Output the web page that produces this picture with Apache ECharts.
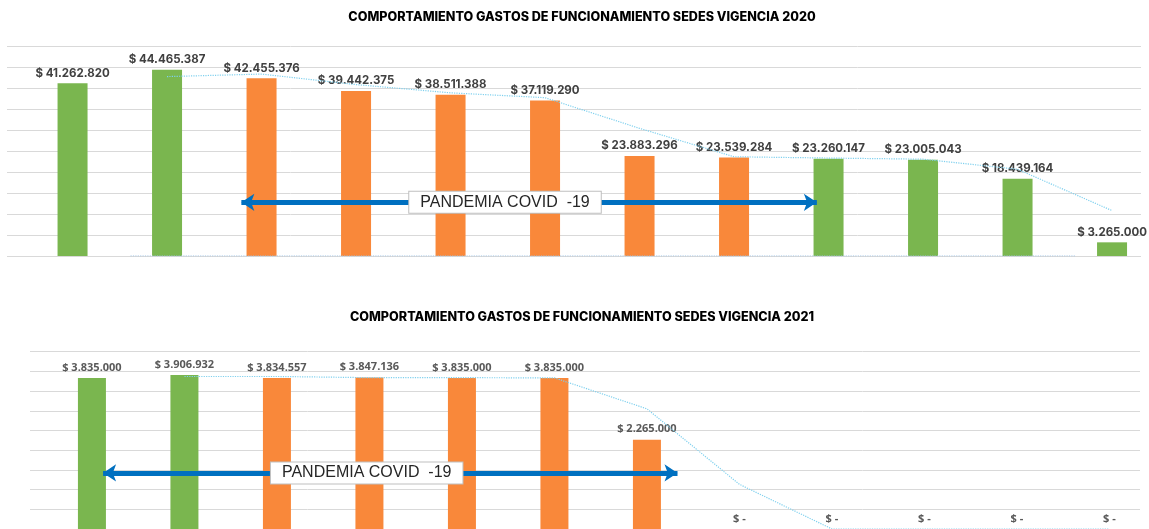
<!DOCTYPE html>
<html>
<head>
<meta charset="utf-8">
<script src="https://cdn.jsdelivr.net/npm/echarts@6/dist/echarts.min.js"></script>
<style>
html,body{margin:0;padding:0;background:#fff;overflow:hidden;}
#c{width:1149px;height:529px;}
</style>
</head>
<body>
<div id="c"></div>
<script>
// ---- DATA ----
const categories = ['Ene','Feb','Mar','Abr','May','Jun','Jul','Ago','Sep','Oct','Nov','Dic'];
const gastos2020 = [41262820, 44465387, 42455376, 39442375, 38511388, 37119290, 23883296, 23539284, 23260147, 23005043, 18439164, 3265000];
const gastos2021 = [3835000, 3906932, 3834557, 3847136, 3835000, 3835000, 2265000, 0, 0, 0, 0, 0];
const fase2020 = ['normal','normal','covid','covid','covid','covid','covid','covid','normal','normal','normal','normal'];
const fase2021 = ['normal','normal','covid','covid','covid','covid','covid','normal','normal','normal','normal','normal'];
// trend lines (2-period moving average)
const tendencia2020 = [null, 42860000, 43460000, 40950000, 38980000, 37820000, 30500000, 23710000, 23400000, 23130000, 20720000, 10850000];
const tendenciaBase2020 = [null, 0, 0, 0, 0, 0, 0, 0, 0, 0, 0, 0];
const tendencia2021 = [null, 3871000, 3871000, 3841000, 3841000, 3835000, 3050000, 1133000, 0, 0, 0, 0];
const titulo2020 = 'COMPORTAMIENTO GASTOS DE FUNCIONAMIENTO SEDES VIGENCIA 2020';
const titulo2021 = 'COMPORTAMIENTO GASTOS DE FUNCIONAMIENTO SEDES VIGENCIA 2021';
const textoPandemia = 'PANDEMIA COVID  -19';

// ---- STYLE ----
const colores = { normal: '#7ab64f', covid: '#f9883a' };
const gridColor = '#d9d9d9';
const trendColor = '#7fd0ee';
const arrowColor = '#0070c0';

function fmt(v) {
  if (v === 0) return '$ -';
  return '$ ' + String(v).replace(/\B(?=(\d{3})+(?!\d))/g, '.');
}

// annotation placement (axis units)
const ann2020 = { from: 2.48, to: 8.57, y: 12.83e6, box: 5.27 };
const ann2021 = { from: 0.79, to: 7.0, y: 1.424e6, box: 3.64 };
const off2020 = 0.193, off2021 = 0.17;

function barData(vals, fases) {
  return vals.map((v, i) => ({ value: v, itemStyle: { color: colores[fases[i]] } }));
}
function lineData(vals, off) {
  const out = [];
  vals.forEach((v, i) => { if (v !== null) out.push([i + 0.5 + off, v]); });
  return out;
}
function arrowMarks(a) {
  return {
    markLine: {
      silent: true, z: 5,
      symbol: ['arrow', 'arrow'], symbolSize: 13,
      lineStyle: { color: arrowColor, width: 5, type: 'solid' },
      label: { show: false },
      data: [[{ coord: [a.from, a.y] }, { coord: [a.to, a.y] }]]
    },
    markPoint: {
      silent: true, z: 10,
      symbol: 'rect', symbolSize: 1,
      itemStyle: { color: 'rgba(0,0,0,0)' },
      label: {
        show: true, position: 'inside', formatter: textoPandemia,
        fontFamily: 'Liberation Sans', fontSize: 16, color: '#262626',
        backgroundColor: '#fff', borderColor: '#bfbfbf', borderWidth: 1,
        padding: [3, 11, 2, 11]
      },
      data: [{ coord: [a.box, a.y] }]
    }
  };
}

const chart = echarts.init(document.getElementById('c'), null, { renderer: 'canvas' });
const titleStyle = { fontFamily: 'Inter', fontWeight: 800, fontSize: 12.6, color: '#000' };
chart.setOption({
  animation: false,
  title: [
    { text: titulo2020, left: 582, top: 11, textAlign: 'center', padding: 0, textStyle: titleStyle },
    { text: titulo2021, left: 582, top: 311, textAlign: 'center', padding: 0, textStyle: titleStyle }
  ],
  grid: [
    { left: 7, right: 8, top: 46.7, bottom: 273 },
    { left: 30, right: 9, top: 351.7, bottom: -5.5 }
  ],
  xAxis: [
    { type: 'category', gridIndex: 0, data: categories, axisTick: { show: false }, axisLabel: { show: false }, axisLine: { show: false } },
    { type: 'value', gridIndex: 0, min: 0, max: 12, show: false },
    { type: 'category', gridIndex: 1, data: categories, axisTick: { show: false }, axisLabel: { show: false }, axisLine: { show: false } },
    { type: 'value', gridIndex: 1, min: 0, max: 12, show: false }
  ],
  yAxis: [
    { type: 'value', gridIndex: 0, min: 0, max: 50e6, interval: 5e6, axisLabel: { show: false }, axisLine: { show: false }, axisTick: { show: false },
      splitLine: { lineStyle: { color: gridColor, width: 1 } } },
    { type: 'value', gridIndex: 1, min: 0, max: 4.5e6, interval: 0.5e6, axisLabel: { show: false }, axisLine: { show: false }, axisTick: { show: false },
      splitLine: { lineStyle: { color: gridColor, width: 1 } } }
  ],
  series: [
    { type: 'bar', xAxisIndex: 0, yAxisIndex: 0, data: gastos2020.map(() => 0), barWidth: 30, barGap: '22%', silent: true,
      itemStyle: { color: 'rgba(0,0,0,0)' } },
    { type: 'bar', xAxisIndex: 0, yAxisIndex: 0, data: barData(gastos2020, fase2020), barWidth: 30, barGap: '22%',
      label: { show: true, position: 'top', distance: 4, formatter: p => fmt(p.value),
        fontFamily: 'Inter', fontWeight: 700, fontSize: 11.5, color: '#404040' } },
    { type: 'line', xAxisIndex: 1, yAxisIndex: 0, data: lineData(tendencia2020, off2020), symbol: 'none', z: 3,
      lineStyle: { color: trendColor, width: 1.2, type: 'dotted' } },
    Object.assign({ type: 'line', xAxisIndex: 1, yAxisIndex: 0, data: lineData(tendenciaBase2020, -off2020), symbol: 'none', z: 3,
      lineStyle: { color: '#9dc3e6', width: 1.2, type: 'dotted' } }, arrowMarks(ann2020)),

    { type: 'bar', xAxisIndex: 2, yAxisIndex: 1, data: gastos2021.map(() => 0), barWidth: 28, barGap: '12%', silent: true,
      itemStyle: { color: 'rgba(0,0,0,0)' } },
    { type: 'bar', xAxisIndex: 2, yAxisIndex: 1, data: barData(gastos2021, fase2021), barWidth: 28, barGap: '12%',
      label: { show: true, position: 'top', distance: 5, formatter: p => fmt(p.value),
        fontFamily: 'Open Sans', fontWeight: 700, fontSize: 11, color: '#595959' } },
    Object.assign({ type: 'line', xAxisIndex: 3, yAxisIndex: 1, data: lineData(tendencia2021, off2021), symbol: 'none', z: 3,
      lineStyle: { color: trendColor, width: 1.2, type: 'dotted' } }, arrowMarks(ann2021))
  ]
});
</script>
</body>
</html>
